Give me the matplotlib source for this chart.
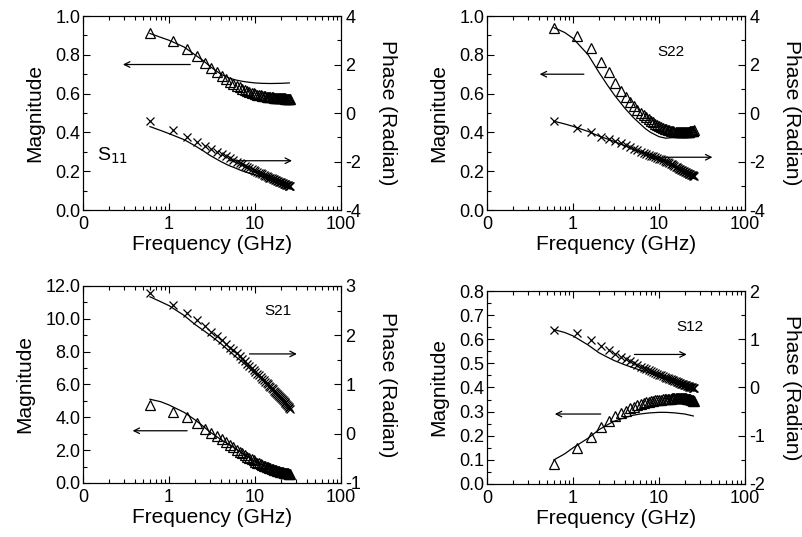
import matplotlib
matplotlib.use("Agg")
import matplotlib.pyplot as plt
from matplotlib.ticker import FixedLocator, FixedFormatter, MultipleLocator, LogLocator, NullFormatter

plt.rcParams["font.family"] = ["Liberation Sans", "DejaVu Sans"]
plt.rcParams["axes.unicode_minus"] = False

# measured frequencies (GHz)
freq = [0.6, 1.1, 1.6, 2.1, 2.6, 3.1, 3.6, 4.1, 4.6, 5.1, 5.6, 6.1, 6.6, 7.1, 7.6, 8.1, 8.6,
        9.1, 9.6, 10.1, 10.6, 11.1, 11.6, 12.1, 12.6, 13.1, 13.6, 14.1, 14.6, 15.1, 15.6,
        16.1, 16.6, 17.1, 17.6, 18.1, 18.6, 19.1, 19.6, 20.1, 20.6, 21.1, 21.6, 22.1, 22.6,
        23.1, 23.6, 24.1, 24.6, 25.1, 25.6]
# model frequencies (GHz)
freq_m = [0.6, 0.8, 1.0, 1.5, 2.0, 2.5, 3.0, 4.0, 5.0, 6.0, 7.0, 8.0, 10.0, 12.0, 15.0, 20.0, 25.0]

# S11
s11_mag = [0.91, 0.87, 0.83, 0.795, 0.76, 0.73, 0.71, 0.69, 0.675, 0.66, 0.65, 0.64, 0.633,
           0.626, 0.62, 0.614, 0.609, 0.605, 0.601, 0.598, 0.595, 0.593, 0.591, 0.589, 0.588,
           0.586, 0.585, 0.584, 0.583, 0.582, 0.581, 0.58, 0.579, 0.579, 0.578, 0.578, 0.577,
           0.577, 0.576, 0.576, 0.576, 0.575, 0.575, 0.575, 0.574, 0.574, 0.574, 0.574, 0.573,
           0.573, 0.573]
s11_ph = [-0.34, -0.70, -0.98, -1.18, -1.35, -1.48, -1.59, -1.69, -1.78, -1.86, -1.93, -2.00,
          -2.06, -2.12, -2.17, -2.22, -2.27, -2.31, -2.35, -2.39, -2.42, -2.46, -2.49, -2.52,
          -2.55, -2.58, -2.61, -2.63, -2.66, -2.68, -2.70, -2.72, -2.74, -2.76, -2.78, -2.80,
          -2.81, -2.83, -2.85, -2.86, -2.88, -2.89, -2.91, -2.92, -2.94, -2.95, -2.96, -2.98,
          -2.99, -3.00, -3.01]
s11_mag_m = [0.91, 0.89, 0.875, 0.84, 0.80, 0.77, 0.74, 0.70, 0.68, 0.67, 0.664, 0.66, 0.655,
             0.653, 0.652, 0.653, 0.655]
s11_ph_m = [-0.56, -0.72, -0.85, -1.10, -1.35, -1.56, -1.75, -2.00, -2.17, -2.28, -2.38,
            -2.45, -2.55, -2.63, -2.78, -2.92, -3.02]

# S22
s22_mag = [0.94, 0.895, 0.835, 0.765, 0.71, 0.655, 0.615, 0.58, 0.555, 0.535, 0.517, 0.502,
           0.49, 0.479, 0.469, 0.46, 0.452, 0.445, 0.439, 0.433, 0.428, 0.424, 0.42, 0.417,
           0.414, 0.411, 0.409, 0.407, 0.405, 0.404, 0.403, 0.402, 0.401, 0.4, 0.4, 0.4, 0.4,
           0.4, 0.4, 0.401, 0.401, 0.402, 0.402, 0.403, 0.404, 0.405, 0.406, 0.407, 0.408,
           0.409, 0.41]
s22_ph = [-0.34, -0.6, -0.8, -0.97, -1.07, -1.16, -1.25, -1.33, -1.41, -1.48, -1.54, -1.59,
          -1.64, -1.68, -1.72, -1.76, -1.79, -1.82, -1.85, -1.88, -1.91, -1.94, -1.97, -2.0,
          -2.03, -2.06, -2.09, -2.12, -2.15, -2.18, -2.21, -2.24, -2.27, -2.3, -2.32, -2.35,
          -2.37, -2.39, -2.41, -2.43, -2.45, -2.47, -2.49, -2.5, -2.52, -2.53, -2.55, -2.56,
          -2.57, -2.58, -2.59]
s22_mag_m = [0.94, 0.915, 0.885, 0.80, 0.71, 0.645, 0.595, 0.525, 0.478, 0.445, 0.418, 0.40,
             0.378, 0.37, 0.375, 0.39, 0.40]
s22_ph_m = [-0.34, -0.45, -0.55, -0.76, -0.95, -1.07, -1.17, -1.35, -1.5, -1.6, -1.68, -1.76,
            -1.9, -2.02, -2.2, -2.42, -2.58]

# S21
s21_mag = [4.75, 4.35, 4.0, 3.64, 3.3, 3.05, 2.85, 2.66, 2.48, 2.32, 2.17, 2.03, 1.91, 1.8,
           1.7, 1.61, 1.52, 1.44, 1.37, 1.3, 1.24, 1.19, 1.14, 1.1, 1.06, 1.02, 0.98, 0.95,
           0.92, 0.89, 0.86, 0.83, 0.81, 0.79, 0.77, 0.75, 0.73, 0.71, 0.69, 0.68, 0.66, 0.65,
           0.63, 0.62, 0.61, 0.6, 0.59, 0.58, 0.57, 0.56, 0.55]
s21_ph = [2.86, 2.62, 2.45, 2.3, 2.18, 2.07, 1.98, 1.9, 1.82, 1.75, 1.69, 1.63, 1.57, 1.52,
          1.47, 1.42, 1.38, 1.34, 1.3, 1.26, 1.22, 1.19, 1.15, 1.12, 1.09, 1.06, 1.03, 1.0,
          0.97, 0.95, 0.92, 0.9, 0.87, 0.85, 0.83, 0.8, 0.78, 0.76, 0.74, 0.72, 0.7, 0.68, 0.66,
          0.64, 0.62, 0.6, 0.58, 0.56, 0.54, 0.52, 0.5]
s21_mag_m = [5.1, 4.95, 4.75, 4.3, 3.85, 3.45, 3.1, 2.65, 2.33, 2.07, 1.84, 1.66, 1.31, 1.12,
             0.9, 0.7, 0.55]
s21_ph_m = [2.78, 2.68, 2.6, 2.4, 2.22, 2.1, 2.0, 1.83, 1.68, 1.56, 1.47, 1.38, 1.22, 1.1,
            0.92, 0.7, 0.48]

# S12
s12_mag = [0.083, 0.15, 0.195, 0.235, 0.26, 0.28, 0.293, 0.304, 0.313, 0.32, 0.326, 0.331,
           0.335, 0.338, 0.341, 0.343, 0.345, 0.347, 0.348, 0.349, 0.35, 0.351, 0.352, 0.353,
           0.353, 0.354, 0.354, 0.355, 0.355, 0.355, 0.356, 0.356, 0.356, 0.356, 0.356, 0.356,
           0.356, 0.356, 0.355, 0.355, 0.355, 0.354, 0.354, 0.353, 0.352, 0.351, 0.35, 0.349,
           0.347, 0.346, 0.344]
s12_ph = [1.2, 1.12, 0.99, 0.86, 0.77, 0.7, 0.64, 0.59, 0.54, 0.5, 0.46, 0.43, 0.4, 0.38, 0.36,
          0.34, 0.32, 0.3, 0.28, 0.26, 0.25, 0.23, 0.22, 0.2, 0.19, 0.18, 0.17, 0.16, 0.15,
          0.14, 0.13, 0.12, 0.11, 0.1, 0.09, 0.08, 0.08, 0.07, 0.06, 0.05, 0.05, 0.04, 0.03,
          0.03, 0.02, 0.01, 0.01, 0.0, -0.01, -0.01, -0.02]
s12_mag_m = [0.10, 0.125, 0.15, 0.19, 0.225, 0.245, 0.26, 0.275, 0.285, 0.29, 0.293, 0.295,
             0.297, 0.297, 0.295, 0.29, 0.282]
s12_ph_m = [1.2, 1.14, 1.07, 0.88, 0.72, 0.63, 0.56, 0.47, 0.41, 0.36, 0.32, 0.29, 0.22, 0.17,
            0.11, 0.05, 0.0]

xticks = [0.1, 1, 10, 100]
xticklabels = ["0", "1", "10", "100"]

panels = [
    dict(rect=[0.1034, 0.6089, 0.3213, 0.3613], mag=s11_mag, ph=s11_ph, mag_m=s11_mag_m,
         ph_m=s11_ph_m, maglim=(0, 1.0), magmaj=0.2, magmin=0.1,
         phlim=(-4, 4), phmaj=2, phmin=1, larr=(1.9, 0.27, 0.75), rarr=(4.7, 29, 0.254),
         label="S$_{11}$", lpos=(0.22, 0.28), lsize=14),
    dict(rect=[0.6065, 0.6089, 0.3213, 0.3613], mag=s22_mag, ph=s22_ph, mag_m=s22_mag_m,
         ph_m=s22_ph_m, maglim=(0, 1.0), magmaj=0.2, magmin=0.1,
         phlim=(-4, 4), phmaj=2, phmin=1, larr=(1.44, 0.38, 0.70), rarr=(10.7, 45, 0.272),
         label="S22", lpos=(13.8, 0.816), lsize=11),
    dict(rect=[0.1034, 0.1006, 0.3213, 0.3669], mag=s21_mag, ph=s21_ph, mag_m=s21_mag_m,
         ph_m=s21_ph_m, maglim=(0, 12.0), magmaj=2, magmin=1,
         phlim=(-1, 3), phmaj=1, phmin=0.5, larr=(1.75, 0.35, 3.18), rarr=(8.0, 33, 7.86),
         label="S21", lpos=(18.5, 10.5), lsize=11),
    dict(rect=[0.6065, 0.0987, 0.3213, 0.3594], mag=s12_mag, ph=s12_ph, mag_m=s12_mag_m,
         ph_m=s12_ph_m, maglim=(0, 0.8), magmaj=0.1, magmin=0.05,
         phlim=(-2, 2), phmaj=1, phmin=0.5, larr=(2.26, 0.57, 0.29), rarr=(4.8, 22.6, 0.537),
         label="S12", lpos=(22.6, 0.65), lsize=11),
]

fig = plt.figure(figsize=(8.03, 5.37), dpi=100)

for p in panels:
    ax = fig.add_axes(p["rect"])
    ax2 = ax.twinx()

    # measured points and model curves
    ax.plot(freq, p["mag"], linestyle="none", marker="^", markersize=6.5,
            markerfacecolor="none", markeredgecolor="black", markeredgewidth=0.9)
    ax.plot(freq_m, p["mag_m"], color="black", linewidth=0.9)
    ax2.plot(freq, p["ph"], linestyle="none", marker="x", markersize=5.5,
             color="black", markeredgewidth=0.9)
    ax2.plot(freq_m, p["ph_m"], color="black", linewidth=0.9)

    ax.set_xscale("log")
    ax.set_xlim(0.1, 100)
    ax.set_ylim(*p["maglim"])
    ax2.set_ylim(*p["phlim"])
    ax.xaxis.set_major_locator(FixedLocator(xticks))
    ax.xaxis.set_major_formatter(FixedFormatter(xticklabels))
    ax.xaxis.set_minor_locator(LogLocator(base=10, subs=range(2, 10)))
    ax.xaxis.set_minor_formatter(NullFormatter())

    ax.yaxis.set_major_locator(MultipleLocator(p["magmaj"]))
    ax.yaxis.set_minor_locator(MultipleLocator(p["magmin"]))
    ax.yaxis.set_major_formatter(matplotlib.ticker.FormatStrFormatter("%.1f"))
    ax2.yaxis.set_major_locator(MultipleLocator(p["phmaj"]))
    ax2.yaxis.set_minor_locator(MultipleLocator(p["phmin"]))

    ax.tick_params(which="both", direction="in", top=True, labelsize=13, pad=2)
    ax.tick_params(axis="x", which="both", pad=4)
    ax.tick_params(which="major", length=5, width=0.8)
    ax.tick_params(which="minor", length=3, width=0.8)
    ax2.tick_params(which="both", direction="in", labelsize=13, pad=3)
    ax2.tick_params(which="major", length=5, width=0.8)
    ax2.tick_params(which="minor", length=3, width=0.8)

    ax.set_xlabel("Frequency (GHz)", fontsize=15, labelpad=2)
    ax.set_ylabel("Magnitude", fontsize=15, labelpad=8)
    ax2.set_ylabel("Phase (Radian)", fontsize=15, rotation=270, labelpad=26)

    x0, x1, y = p["larr"]
    ax.annotate("", xy=(x1, y), xytext=(x0, y),
                arrowprops=dict(arrowstyle="->", color="black", lw=0.9))
    x0, x1, y = p["rarr"]
    ax.annotate("", xy=(x1, y), xytext=(x0, y),
                arrowprops=dict(arrowstyle="->", color="black", lw=0.9))
    ax.text(p["lpos"][0], p["lpos"][1], p["label"], fontsize=p["lsize"],
            ha="center", va="center")

fig.savefig("out.png", dpi=100)
